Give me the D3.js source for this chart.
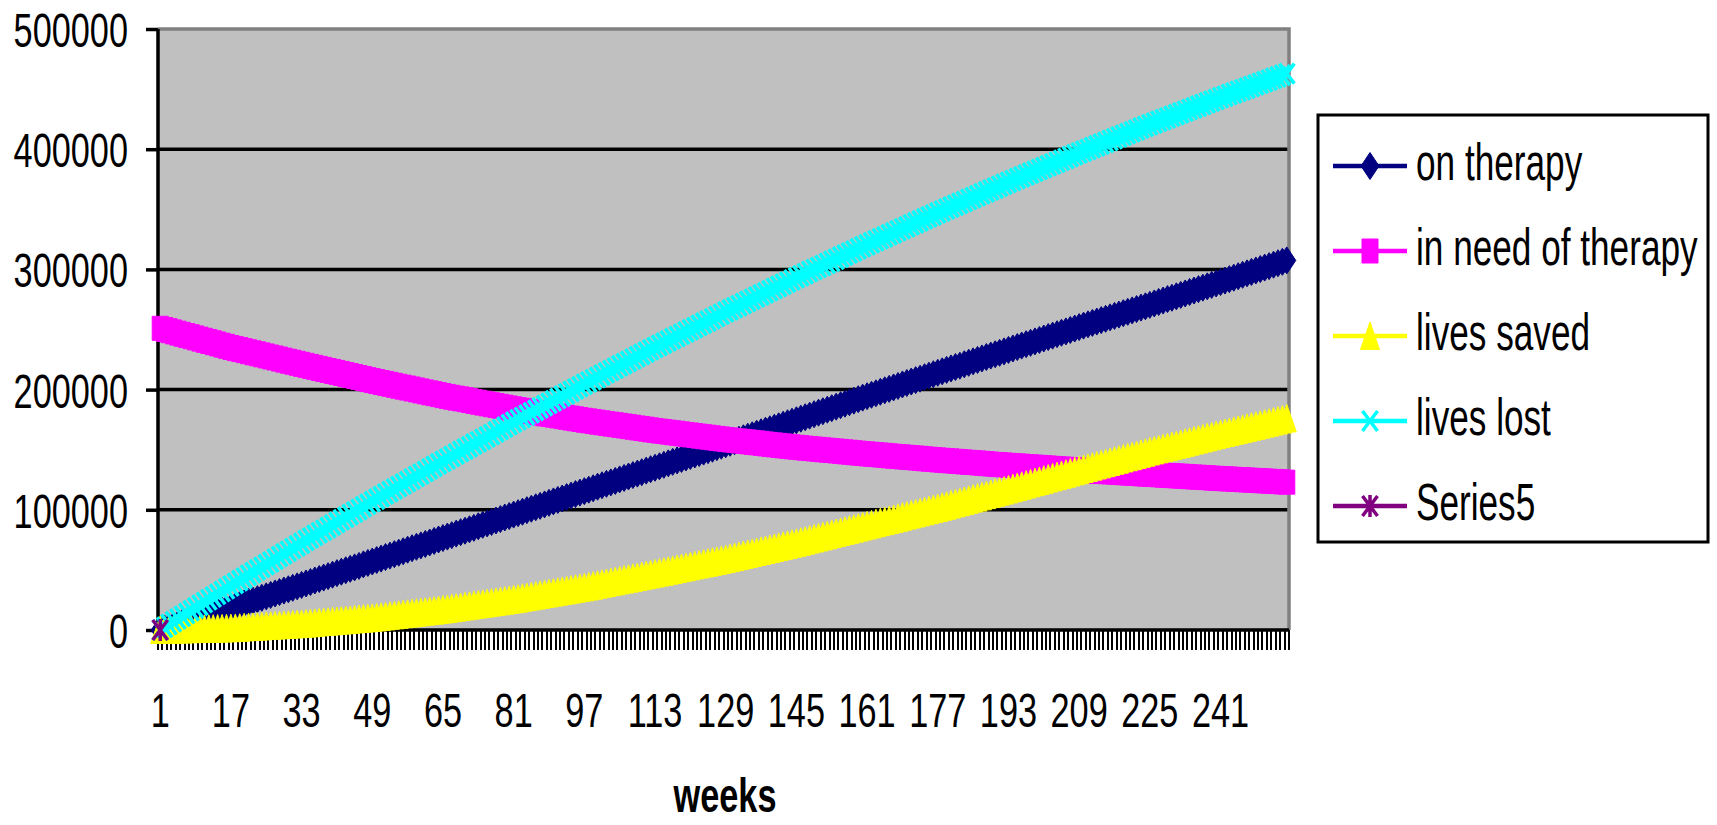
<!DOCTYPE html>
<html>
<head>
<meta charset="utf-8">
<script src="https://cdn.jsdelivr.net/npm/d3@7/dist/d3.min.js"></script>
<style>
  body { margin: 0; background: #ffffff; }
  svg { display: block; }
  text { font-family: "Liberation Sans", Arial, sans-serif; fill: #000; }
</style>
</head>
<body>
<svg id="chart" width="1717" height="825"></svg>
<script>
// Weekly model output, weeks 1..256
const weeks = d3.range(1, 257);
const weekTickLabels = [1, 17, 33, 49, 65, 81, 97, 113, 129, 145, 161, 177, 193, 209, 225, 241];
const valueTicks = [0, 100000, 200000, 300000, 400000, 500000];
const seriesNames = ["on therapy", "in need of therapy", "lives saved", "lives lost", "Series5"];

const onTherapy = [
  0, 1200, 2300, 3500, 4600, 5800, 6900, 8100, 9300, 10400, 11600, 12700, 13900, 15000, 16200, 17300,
  18500, 19700, 20900, 22100, 23300, 24400, 25600, 26800, 28000, 29200, 30400, 31600, 32800, 33900, 35100, 36300,
  37500, 38700, 39900, 41200, 42400, 43600, 44800, 46000, 47300, 48500, 49700, 50900, 52100, 53300, 54600, 55800,
  57000, 58200, 59400, 60700, 61900, 63100, 64300, 65500, 66800, 68000, 69200, 70400, 71600, 72800, 74100, 75300,
  76500, 77700, 78900, 80200, 81400, 82600, 83800, 85000, 86300, 87500, 88700, 89900, 91100, 92300, 93600, 94800,
  96000, 97200, 98400, 99700, 100900, 102100, 103300, 104500, 105800, 107000, 108200, 109400, 110600, 111800, 113100, 114300,
  115500, 116700, 117900, 119200, 120400, 121600, 122800, 124000, 125300, 126500, 127700, 128900, 130100, 131300, 132600, 133800,
  135000, 136200, 137400, 138700, 139900, 141100, 142300, 143500, 144800, 146000, 147200, 148400, 149600, 150800, 152100, 153300,
  154500, 155800, 157000, 158300, 159500, 160800, 162000, 163300, 164500, 165800, 167000, 168300, 169500, 170800, 172000, 173300,
  174500, 175800, 177000, 178300, 179500, 180800, 182000, 183300, 184500, 185800, 187000, 188300, 189500, 190800, 192000, 193300,
  194500, 195700, 196900, 198200, 199400, 200600, 201800, 203000, 204300, 205500, 206700, 207900, 209100, 210300, 211600, 212800,
  214000, 215200, 216400, 217600, 218800, 219900, 221100, 222300, 223500, 224700, 225900, 227100, 228300, 229400, 230600, 231800,
  233000, 234200, 235400, 236600, 237800, 238900, 240100, 241300, 242500, 243700, 244900, 246100, 247300, 248400, 249600, 250800,
  252000, 253200, 254300, 255500, 256600, 257800, 258900, 260100, 261300, 262400, 263600, 264700, 265900, 267000, 268200, 269300,
  270500, 271700, 272900, 274100, 275300, 276400, 277600, 278800, 280000, 281200, 282400, 283600, 284800, 285900, 287100, 288300,
  289500, 290700, 291900, 293100, 294300, 295500, 296700, 297900, 299100, 300300, 301500, 302700, 303900, 305100, 306300, 307500
];

const inNeedOfTherapy = [
  251000, 250000, 249000, 248000, 247000, 246000, 245000, 244000, 243000, 242000, 241000, 240000, 239000, 238000, 237000, 236000,
  235000, 234100, 233300, 232400, 231500, 230600, 229800, 228900, 228000, 227100, 226300, 225400, 224500, 223600, 222800, 221900,
  221000, 220200, 219300, 218500, 217600, 216800, 215900, 215100, 214300, 213400, 212600, 211700, 210900, 210000, 209200, 208300,
  207500, 206700, 205900, 205200, 204400, 203600, 202800, 202000, 201300, 200500, 199700, 198900, 198100, 197300, 196600, 195800,
  195000, 194300, 193600, 192900, 192300, 191600, 190900, 190200, 189500, 188800, 188100, 187400, 186800, 186100, 185400, 184700,
  184000, 183400, 182800, 182200, 181600, 181000, 180400, 179800, 179300, 178700, 178100, 177500, 176900, 176300, 175700, 175100,
  174500, 174000, 173400, 172900, 172400, 171800, 171300, 170800, 170300, 169700, 169200, 168700, 168100, 167600, 167100, 166500,
  166000, 165500, 165100, 164600, 164100, 163700, 163200, 162700, 162300, 161800, 161300, 160800, 160400, 159900, 159400, 159000,
  158500, 158100, 157700, 157300, 156900, 156500, 156100, 155700, 155300, 154800, 154400, 154000, 153600, 153200, 152800, 152400,
  152000, 151700, 151300, 151000, 150600, 150300, 149900, 149600, 149300, 148900, 148600, 148200, 147900, 147500, 147200, 146800,
  146500, 146200, 145900, 145600, 145300, 144900, 144600, 144300, 144000, 143700, 143400, 143100, 142800, 142400, 142100, 141800,
  141500, 141200, 140900, 140700, 140400, 140100, 139800, 139500, 139300, 139000, 138700, 138400, 138100, 137800, 137600, 137300,
  137000, 136800, 136500, 136300, 136000, 135800, 135500, 135300, 135000, 134800, 134500, 134300, 134000, 133800, 133500, 133300,
  133000, 132800, 132600, 132300, 132100, 131900, 131700, 131500, 131300, 131000, 130800, 130600, 130400, 130200, 129900, 129700,
  129500, 129300, 129100, 128800, 128600, 128400, 128200, 128000, 127800, 127500, 127300, 127100, 126900, 126700, 126400, 126200,
  126000, 125800, 125600, 125400, 125200, 125000, 124800, 124600, 124400, 124200, 124000, 123800, 123600, 123400, 123200, 123000
];

const livesSaved = [
  0, 100, 200, 300, 400, 500, 600, 700, 800, 800, 900, 1000, 1100, 1200, 1300, 1400,
  1500, 1700, 1900, 2200, 2400, 2600, 2800, 3000, 3300, 3500, 3700, 3900, 4100, 4300, 4600, 4800,
  5000, 5300, 5600, 5900, 6300, 6600, 6900, 7200, 7500, 7800, 8100, 8400, 8800, 9100, 9400, 9700,
  10000, 10400, 10900, 11300, 11800, 12200, 12600, 13100, 13500, 13900, 14400, 14800, 15300, 15700, 16100, 16600,
  17000, 17500, 18100, 18600, 19100, 19700, 20200, 20700, 21300, 21800, 22300, 22800, 23400, 23900, 24400, 25000,
  25500, 26100, 26800, 27400, 28000, 28600, 29300, 29900, 30500, 31100, 31800, 32400, 33000, 33600, 34300, 34900,
  35500, 36200, 36900, 37700, 38400, 39100, 39800, 40500, 41300, 42000, 42700, 43400, 44100, 44800, 45600, 46300,
  47000, 47800, 48500, 49300, 50000, 50800, 51500, 52300, 53000, 53800, 54500, 55300, 56000, 56800, 57500, 58300,
  59000, 59800, 60700, 61500, 62400, 63200, 64100, 64900, 65800, 66600, 67400, 68300, 69100, 70000, 70800, 71700,
  72500, 73400, 74300, 75200, 76100, 77000, 77900, 78800, 79800, 80700, 81600, 82500, 83400, 84300, 85200, 86100,
  87000, 87900, 88800, 89700, 90600, 91500, 92400, 93300, 94300, 95200, 96100, 97000, 97900, 98800, 99700, 100600,
  101500, 102500, 103400, 104400, 105400, 106300, 107300, 108300, 109300, 110200, 111200, 112200, 113100, 114100, 115100, 116000,
  117000, 118000, 119000, 120000, 121000, 122000, 123000, 124000, 125000, 126000, 127000, 128000, 129000, 130000, 131000, 132000,
  133000, 134000, 134900, 135900, 136900, 137800, 138800, 139800, 140800, 141700, 142700, 143700, 144600, 145600, 146600, 147500,
  148500, 149400, 150300, 151200, 152100, 153000, 153900, 154800, 155800, 156700, 157600, 158500, 159400, 160300, 161200, 162100,
  163000, 163900, 164700, 165600, 166500, 167300, 168200, 169100, 169900, 170800, 171700, 172500, 173400, 174300, 175100, 176000
];

const livesLost = [
  0, 2300, 4600, 6900, 9200, 11400, 13700, 16000, 18300, 20600, 22900, 25200, 27500, 29700, 32000, 34300,
  36600, 38800, 41100, 43300, 45500, 47700, 50000, 52200, 54400, 56600, 58900, 61100, 63300, 65500, 67800, 70000,
  72200, 74400, 76500, 78700, 80900, 83000, 85200, 87300, 89500, 91700, 93800, 96000, 98200, 100300, 102500, 104600,
  106800, 108900, 111000, 113100, 115200, 117300, 119400, 121500, 123600, 125600, 127700, 129800, 131900, 134000, 136100, 138200,
  140300, 142300, 144400, 146400, 148500, 150500, 152500, 154600, 156600, 158600, 160700, 162700, 164800, 166800, 168800, 170900,
  172900, 174900, 176800, 178800, 180800, 182700, 184700, 186700, 188700, 190600, 192600, 194600, 196500, 198500, 200500, 202400,
  204400, 206300, 208200, 210100, 212100, 214000, 215900, 217800, 219700, 221600, 223500, 225400, 227400, 229300, 231200, 233100,
  235000, 236800, 238700, 240500, 242400, 244200, 246100, 247900, 249800, 251600, 253400, 255300, 257100, 259000, 260800, 262700,
  264500, 266300, 268100, 269800, 271600, 273400, 275200, 277000, 278800, 280500, 282300, 284100, 285900, 287700, 289400, 291200,
  293000, 294700, 296400, 298200, 299900, 301600, 303300, 305000, 306800, 308500, 310200, 311900, 313600, 315300, 317100, 318800,
  320500, 322200, 323800, 325500, 327100, 328800, 330400, 332100, 333800, 335400, 337100, 338700, 340400, 342000, 343700, 345300,
  347000, 348600, 350200, 351800, 353400, 354900, 356500, 358100, 359700, 361300, 362900, 364500, 366100, 367600, 369200, 370800,
  372400, 373900, 375500, 377000, 378500, 380100, 381600, 383100, 384700, 386200, 387700, 389200, 390800, 392300, 393800, 395400,
  396900, 398400, 399800, 401300, 402800, 404200, 405700, 407200, 408700, 410100, 411600, 413100, 414500, 416000, 417500, 418900,
  420400, 421800, 423200, 424600, 426000, 427400, 428800, 430200, 431600, 433000, 434400, 435800, 437200, 438600, 440000, 441400,
  442800, 444100, 445500, 446800, 448200, 449500, 450800, 452200, 453500, 454900, 456200, 457500, 458900, 460200, 461600, 462900
];

const series5 = [0];

// ---------------------------------------------------------------------------
const seriesValues = [onTherapy, inNeedOfTherapy, livesSaved, livesLost, series5];
const seriesColors = ["#000080", "#ff00ff", "#ffff00", "#00ffff", "#800080"];
const seriesMarkers = ["diamond", "square", "triangle", "cross", "star"];

const svg = d3.select("#chart");
const plot = { left: 158, right: 1289, top: 29, bottom: 630 };
const sx = 0.70; // horizontal squeeze applied to text and markers

const x = d3.scaleBand().domain(weeks).range([plot.left, plot.right]).paddingInner(0).paddingOuter(0);
const bw = x.bandwidth();
const cx = w => x(w) + bw / 2;
const y = d3.scaleLinear().domain([0, 500000]).range([plot.bottom, plot.top]);

// marker outlines, centred on 0,0
function markerPath(type) {
  switch (type) {
    case "diamond": return "M0,-13.5L9,0L0,13.5L-9,0Z";
    case "square": return "M-8,-12H8V12H-8Z";
    case "triangle": return "M0,-14L9.5,13.5H-9.5Z";
    case "cross": return "M-7.5,-10L7.5,10M-7.5,10L7.5,-10";
    case "star": return "M-7.5,-10L7.5,10M-7.5,10L7.5,-10M0,-11V11";
  }
}
function styleMarker(sel, type, color) {
  if (type === "cross" || type === "star") {
    sel.attr("fill", "none").attr("stroke", color).attr("stroke-width", 3.5);
  } else {
    sel.attr("fill", color).attr("stroke", color).attr("stroke-width", 1);
  }
}

// plot background
svg.append("rect")
  .attr("x", plot.left).attr("y", plot.top)
  .attr("width", plot.right - plot.left).attr("height", plot.bottom - plot.top)
  .attr("fill", "#c0c0c0");

// gridlines
svg.append("g").selectAll("line")
  .data(valueTicks.filter(v => v > 0 && v < 500000))
  .join("line")
  .attr("x1", plot.left).attr("x2", plot.right)
  .attr("y1", d => y(d)).attr("y2", d => y(d))
  .attr("stroke", "#000").attr("stroke-width", 3.5);

// top and right border of the plot area
svg.append("path")
  .attr("d", `M${plot.left},${y(500000)}H${plot.right}V${plot.bottom}`)
  .attr("fill", "none").attr("stroke", "#808080").attr("stroke-width", 3.5);

// value axis
const yAxis = svg.append("g")
  .attr("transform", `translate(${plot.left},0)`)
  .call(d3.axisLeft(y).tickValues(valueTicks).tickSize(12).tickFormat(d3.format("d")));
yAxis.select(".domain").attr("stroke", "#000").attr("stroke-width", 3.5)
  .attr("d", `M0,${plot.top}V${plot.bottom}`);
yAxis.selectAll(".tick line").attr("stroke", "#000").attr("stroke-width", 3.5);
yAxis.selectAll(".tick text")
  .attr("x", null).attr("dy", null)
  .attr("transform", `translate(-30,17.5) scale(${sx},1)`)
  .attr("text-anchor", "end")
  .style("font-size", "49px")
  .style("font-family", '"Liberation Sans", Arial, sans-serif')
  .attr("fill", "#000");

// category axis: one tick at every category boundary
const xTickPos = weeks.map(w => x(w)).concat([plot.right]);
svg.append("g").selectAll("line")
  .data(xTickPos)
  .join("line")
  .attr("x1", d => d).attr("x2", d => d)
  .attr("y1", plot.bottom).attr("y2", plot.bottom + 20)
  .attr("stroke", "#000").attr("stroke-width", 2)
  .attr("shape-rendering", "crispEdges");
svg.append("line")
  .attr("x1", plot.left - 1.5).attr("x2", plot.right)
  .attr("y1", plot.bottom).attr("y2", plot.bottom)
  .attr("stroke", "#000").attr("stroke-width", 3.5);

svg.append("g").selectAll("text")
  .data(weekTickLabels)
  .join("text")
  .attr("transform", d => `translate(${cx(d)},727) scale(${sx},1)`)
  .attr("text-anchor", "middle")
  .style("font-size", "49px")
  .text(d => d);

svg.append("text")
  .attr("transform", `translate(725,812) scale(${sx},1)`)
  .attr("text-anchor", "middle")
  .style("font-size", "49px").style("font-weight", "bold")
  .text("weeks");

// series: line first, then a marker at every week
const line = d3.line().x((d, i) => cx(weeks[i])).y(d => y(d));
seriesValues.forEach((vals, si) => {
  const g = svg.append("g");
  if (vals.length > 1) {
    g.append("path").attr("d", line(vals))
      .attr("fill", "none").attr("stroke", seriesColors[si]).attr("stroke-width", 4);
  }
  const m = g.selectAll("path.mk")
    .data(vals)
    .join("path")
    .attr("class", "mk")
    .attr("d", markerPath(seriesMarkers[si]))
    .attr("transform", (d, i) => `translate(${cx(weeks[i])},${y(d)})`);
  styleMarker(m, seriesMarkers[si], seriesColors[si]);
});

// legend
const legend = svg.append("g");
legend.append("rect")
  .attr("x", 1318).attr("y", 115).attr("width", 390).attr("height", 427)
  .attr("fill", "#fff").attr("stroke", "#000").attr("stroke-width", 3);
seriesNames.forEach((name, i) => {
  const ry = 166 + i * 85;
  legend.append("line")
    .attr("x1", 1333).attr("x2", 1407).attr("y1", ry).attr("y2", ry)
    .attr("stroke", seriesColors[i]).attr("stroke-width", 4.5);
  const mk = legend.append("path")
    .attr("d", markerPath(seriesMarkers[i]))
    .attr("transform", `translate(1370,${ry})`);
  styleMarker(mk, seriesMarkers[i], seriesColors[i]);
  legend.append("text")
    .attr("transform", `translate(1416,${ry + 14}) scale(0.69,1)`)
    .style("font-size", "51px")
    .text(name);
});
</script>
</body>
</html>
